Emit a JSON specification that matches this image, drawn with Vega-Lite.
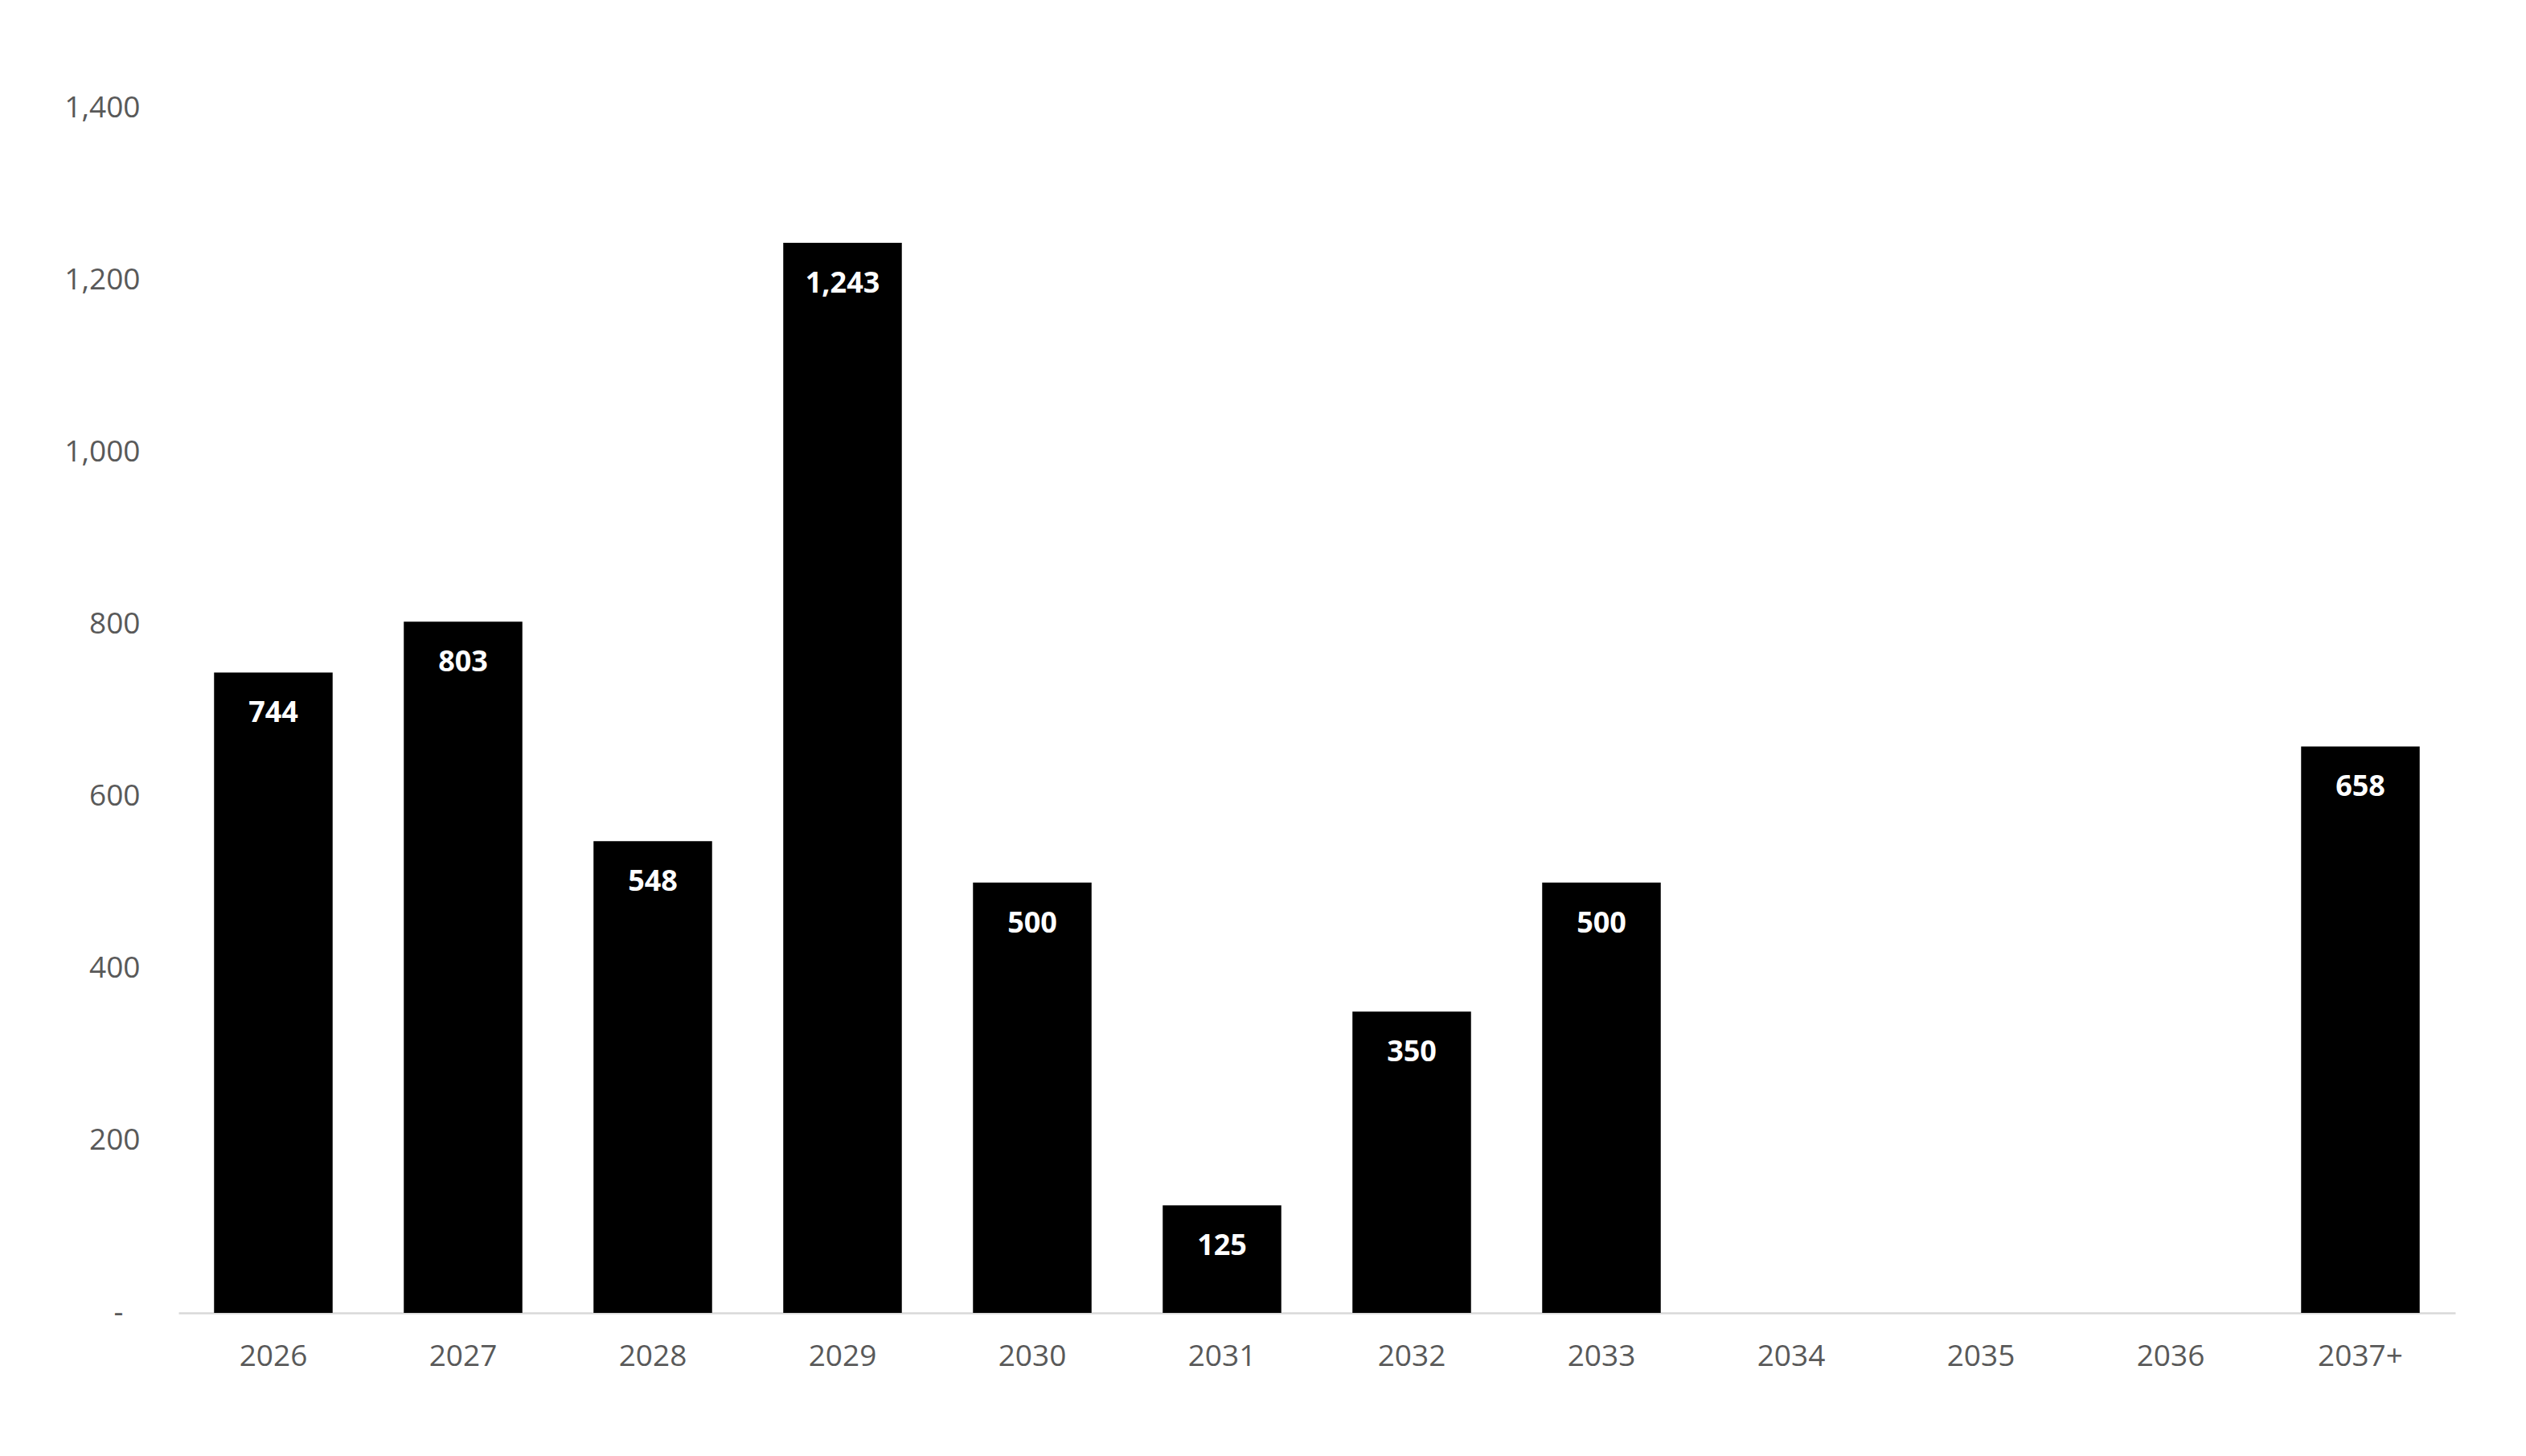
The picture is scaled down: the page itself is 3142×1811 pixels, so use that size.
{
  "$schema": "https://vega.github.io/schema/vega-lite/v6.json",
  "width": 2832,
  "height": 1499,
  "autosize": {"type": "none"},
  "padding": {"left": 222, "top": 134, "right": 88, "bottom": 178},
  "background": "white",
  "data": {
    "values": [
      {"year": "2026", "amount": 744},
      {"year": "2027", "amount": 803},
      {"year": "2028", "amount": 548},
      {"year": "2029", "amount": 1243},
      {"year": "2030", "amount": 500},
      {"year": "2031", "amount": 125},
      {"year": "2032", "amount": 350},
      {"year": "2033", "amount": 500},
      {"year": "2034", "amount": 0},
      {"year": "2035", "amount": 0},
      {"year": "2036", "amount": 0},
      {"year": "2037+", "amount": 658}
    ]
  },
  "encoding": {
    "x": {
      "field": "year",
      "type": "nominal",
      "sort": null,
      "title": null,
      "scale": {
        "domain": ["2026", "2027", "2028", "2029", "2030", "2031", "2032", "2033", "2034", "2035", "2036", "2037+"],
        "paddingInner": 0.375,
        "paddingOuter": 0.1875
      },
      "axis": {
        "labelAngle": 0,
        "ticks": false,
        "tickSize": 0,
        "labelPadding": 54,
        "labelBaseline": "middle",
        "domainColor": "#d9d9d9",
        "domainWidth": 2.5,
        "grid": false
      }
    },
    "y": {
      "field": "amount",
      "type": "quantitative",
      "title": null,
      "scale": {"domain": [0, 1400]},
      "axis": {
        "values": [0, 200, 400, 600, 800, 1000, 1200, 1400],
        "labelExpr": "datum.value == 0 ? '-' : format(datum.value, ',')",
        "ticks": false,
        "tickSize": 0,
        "labelPadding": {"condition": {"test": "datum.value == 0", "value": 69}, "value": 48},
        "domain": false,
        "grid": false
      }
    }
  },
  "layer": [
    {
      "mark": {"type": "bar", "color": "#000000"}
    },
    {
      "transform": [{"filter": "datum.amount > 0"}],
      "mark": {
        "type": "text",
        "color": "white",
        "font": "Open Sans",
        "fontWeight": "bold",
        "fontSize": 36,
        "baseline": "middle",
        "dy": 51
      },
      "encoding": {
        "text": {"field": "amount", "type": "quantitative", "format": ","}
      }
    }
  ],
  "config": {
    "view": {"stroke": null},
    "axis": {
      "labelFont": "Open Sans",
      "labelFontSize": 37,
      "labelColor": "#595959"
    }
  }
}
